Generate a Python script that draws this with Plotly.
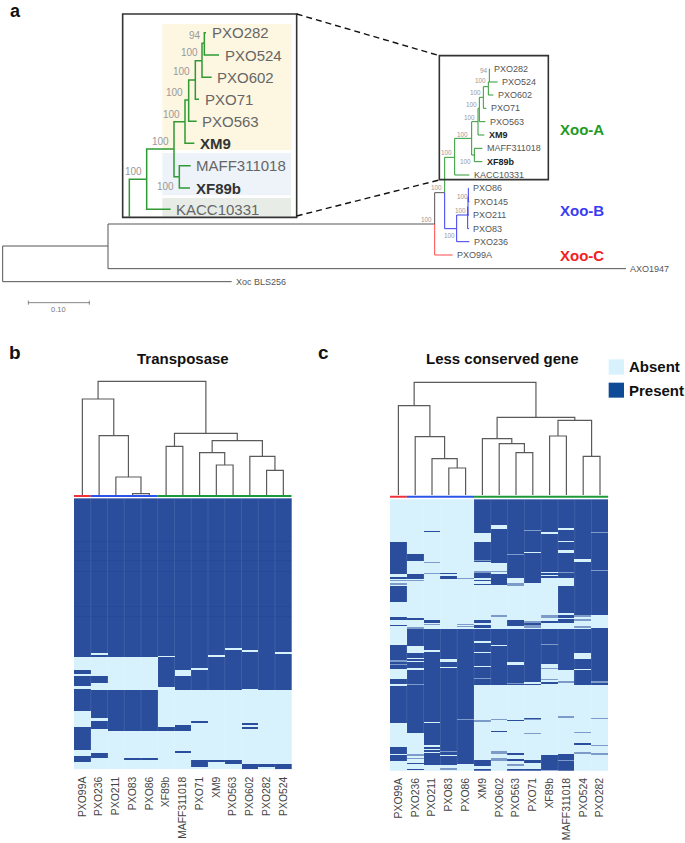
import plotly.graph_objects as go

FONT = "Liberation Sans"
W, H = 685, 843

# ---------- data: phylogeny (page units are 3x pixels) ----------
MAIN_ID = ["root", "n1", "Xoc BLS256", "n2", "AXO1947", "n3", "PXO99A", "g1", "b1", "PXO236", "b2", "PXO83", "b3",
           "PXO211", "b4", "PXO86", "PXO145", "KACC10331", "g2", "g3", "g4", "XM9", "e", "PXO563", "f", "PXO71", "g",
           "PXO602", "h", "PXO282", "PXO524", "MAFF311018", "XF89b"]
MAIN_PARENT = [None, "root", "root", "n1", "n1", "n2", "n2", "n3", "n3", "b1", "b1", "b2", "b2",
               "b3", "b3", "b4", "b4", "g1", "g1", "g2", "g2", "g3", "g3", "e", "e", "f", "f",
               "g", "g", "h", "h", "g4", "g4"]
MAIN_X = [8, 324, 695, 1304, 1878, 1334, 1358, 1364, 1370, 1408, 1403, 1407, 1404,
          1407, 1405, 1407, 1408, 1408, 1415, 1434, 1423, 1453, 1438, 1456, 1450, 1459, 1465,
          1480, 1468, 1470, 1493, 1447, 1447]
MAIN_Y = [738, 738, 845, 672, 806, 578, 765, 472, 686, 725, 645, 686, 620,
          645, 590, 565, 605, 525, 415, 365, 465, 405, 325, 365, 292, 325, 260,
          285, 246, 207, 246, 445, 485]
MAIN_CLADE = ["k", "k", "k", "k", "k", "k", "r", "g", "b", "b", "b", "b", "b",
              "b", "b", "b", "b", "g", "g", "g", "g", "g", "g", "g", "g", "g", "g",
              "g", "g", "g", "g", "g", "g"]
MAIN_BOOT_X = [1452, 1441, 1427, 1415, 1408, 1388, 1339, 1397, 1387, 1380, 1347, 1310, 1280]
MAIN_BOOT_Y = [212, 242, 276, 314, 352, 402, 456, 485, 590, 631, 705, 563, 657]
MAIN_BOOT = [94, 100, 100, 100, 100, 100, 100, 100, 100, 100, 100, 100, 100]

INSET_ID = ["stem", "a", "KACC10331", "b", "c", "d", "MAFF311018", "XF89b", "XM9", "e", "PXO563", "f", "PXO71", "g",
            "PXO602", "h", "PXO282", "PXO524"]
INSET_PARENT = [None, "stem", "a", "a", "b", "b", "d", "d", "c", "c", "e", "e", "f", "f", "g", "g", "h", "h"]
INSET_X = [388, 440, 512, 522, 555, 538, 572, 570, 583, 566, 590, 586, 597, 606, 635, 613, 618, 657]
INSET_Y = [650, 538, 628, 447, 365, 530, 497, 564, 430, 300, 364, 240, 298, 182, 232, 130, 98, 165]
INSET_BOOT_X = [585, 568, 545, 524, 515, 481, 399, 496]
INSET_BOOT_Y = [107, 158, 214, 277, 342, 423, 513, 560]
INSET_BOOT = [94, 100, 100, 100, 100, 100, 100, 100]
BOLD_STRAINS = ["XM9", "XF89b"]

# ---------- data: clustering ----------
B_LABELS = ["PXO99A", "PXO236", "PXO211", "PXO83", "PXO86", "XF89b", "MAFF311018", "PXO71", "XM9", "PXO563",
            "PXO602", "PXO282", "PXO524"]
C_LABELS = ["PXO99A", "PXO236", "PXO211", "PXO83", "PXO86", "XM9", "PXO602", "PXO563", "PXO71", "XF89b",
            "MAFF311018", "PXO524", "PXO282"]
# merges: leaf index 0-12, or 13 + merge index
B_LEFT = [3, 2, 1, 0, 5, 8, 7, 11, 10, 19, 17, 16]
B_RIGHT = [4, 13, 14, 15, 6, 9, 18, 12, 20, 21, 22, 23]
B_HEIGHT = [4, 54, 178, 288, 146, 90, 127, 74, 116, 163, 185, 341]
C_LEFT = [3, 2, 1, 0, 7, 6, 5, 9, 11, 20, 19, 16]
C_RIGHT = [4, 13, 14, 15, 8, 17, 18, 10, 12, 21, 22, 23]
C_HEIGHT = [81, 109, 175, 268, 127, 154, 169, 177, 116, 224, 233, 338]

# gene presence runs per strain (start row, end row[, level]); 813/814 gene rows
B_OFFSET = 425
B_RUNS = [
    [(-425, 52), (92, 102), (108, 140), (147, 213), (263, 332), (350, 366)],
    [(-425, 41), (47, 52), (108, 130), (152, 234), (245, 267), (339, 355)],
    [(-425, 52), (152, 273)],
    [(-425, 52), (152, 273), (355, 360)],
    [(-425, 52), (152, 273), (355, 360)],
    [(-425, 48), (52, 141), (263, 273)],
    [(-425, 92), (108, 152), (257, 273), (333, 339)],
    [(-425, 86), (91, 152), (245, 250), (361, 383)],
    [(-425, 47), (53, 152), (361, 366)],
    [(-425, 26), (31, 152), (361, 372)],
    [(-425, 31), (37, 147), (251, 256), (262, 268), (372, 388)],
    [(-425, 152), (372, 383)],
    [(-425, 36), (42, 152), (372, 388)],
]
B_TOTAL = 813
B_DARK_ROWS = [30, 63, 95, 130, 160, 187, 220, 255, 290, 325, 355, 390]

C_UPPER_OFFSET, C_LOWER_OFFSET = -28, 422
C_TOTAL = 814
C_UPPER = [
    [(155, 252), (262, 266), (270, 273, .5), (278, 284, .5), (288, 337), (380, 390), (405, 409)],
    [(193, 213), (215, 217, .5), (252, 268), (270, 274, .5), (384, 390), (412, 416, .5), (416, 450)],
    [(122, 126), (216, 218, .5), (248, 252, .5), (390, 400), (402, 405, .5), (416, 450)],
    [(248, 252), (258, 266), (416, 450)],
    [(264, 266, .5), (403, 406, .5), (408, 411, .5), (416, 450)],
    [(28, 130), (155, 210), (210, 214, .5), (214, 217), (244, 248, .5), (248, 264), (270, 274), (281, 286), (390, 400),
     (405, 414), (416, 450)],
    [(28, 106), (116, 218), (242, 246, .5), (252, 286), (376, 380, .5), (416, 450)],
    [(28, 192), (192, 195, .5), (195, 265), (278, 288, .5), (390, 408), (416, 450)],
    [(28, 120), (120, 122, .5), (122, 187), (190, 280), (392, 400, .5), (400, 405), (405, 414, .5), (416, 450)],
    [(28, 127), (131, 245), (248, 255), (258, 265), (375, 385, .5), (392, 398), (416, 450)],
    [(28, 113), (120, 153), (156, 180), (190, 246), (246, 249, .5), (249, 265), (287, 370), (376, 384), (388, 398),
     (416, 450)],
    [(28, 207), (216, 376), (376, 380, .5), (388, 392, .5), (408, 413, .5), (416, 450)],
    [(28, 126), (126, 128, .5), (128, 240), (240, 244, .5), (244, 376), (414, 450)],
]
C_LOWER = [
    [(14, 60), (60, 65, .5), (65, 70), (70, 74, .5), (74, 87), (115, 130), (137, 247), (320, 342), (345, 362)],
    [(0, 17), (37, 54), (57, 61), (64, 82), (90, 130), (130, 134, .5), (134, 278), (342, 346, .5), (354, 357, .5),
     (367, 370), (386, 389)],
    [(0, 30), (34, 245), (249, 315), (319, 325), (328, 335), (339, 373)],
    [(0, 56), (65, 80), (83, 332), (332, 336, .5), (336, 344), (346, 373), (384, 388, .5)],
    [(0, 235), (235, 238, .5), (238, 372)],
    [(0, 3), (10, 34), (38, 78), (81, 112), (112, 116, .5), (116, 135), (240, 245, .5), (358, 378), (385, 392)],
    [(0, 14), (17, 135), (237, 240, .5), (271, 275), (333, 341, .5), (352, 362, .5)],
    [(0, 65), (74, 127), (127, 132, .5), (132, 135), (239, 243), (339, 343), (357, 362), (372, 378, .5), (387, 392)],
    [(0, 124), (132, 135), (232, 235), (236, 240, .5), (277, 280, .5), (358, 368), (385, 392)],
    [(0, 13), (13, 16, .5), (16, 72), (83, 86, .5), (115, 120, .5), (125, 132), (345, 388), (388, 392, .5)],
    [(0, 90), (123, 127, .5), (228, 233, .5), (340, 360), (360, 363, .5), (363, 392)],
    [(0, 38), (56, 86), (90, 135), (274, 278, .5), (307, 313), (336, 340, .5)],
    [(0, 122), (122, 128, .5), (128, 135), (234, 237, .5), (314, 317, .5), (339, 345, .5)],
]

# ---------- helpers ----------
def xdom(a, b):
    return [a / W, b / W]

def ydom(top, bottom):
    return [1 - bottom / H, 1 - top / H]

def tree_lines(ids, parents, xs, ys, clades=None):
    pos = {i: (x, y) for i, x, y in zip(ids, xs, ys)}
    out = {}
    for k, p in enumerate(parents):
        if p is None:
            continue
        c = clades[k] if clades else "g"
        px, py = pos[p]
        x, y = xs[k], ys[k]
        lx, ly = out.setdefault(c, ([], []))
        lx += [px, px, x, None]
        ly += [py, y, y, None]
    return out

def dendro(left, right, height):
    px = {i: float(i) for i in range(13)}
    ph = {i: 0.0 for i in range(13)}
    X, Y = [], []
    for k, (l, r, h) in enumerate(zip(left, right, height)):
        X += [px[l], px[l], px[r], px[r], None]
        Y += [ph[l], h, h, ph[r], None]
        px[13 + k] = (px[l] + px[r]) / 2
        ph[13 + k] = h
    return X, Y

def fill_matrix(total, segments):
    z = [[0.0] * 13 for _ in range(total)]
    for col_runs, off in segments:
        for c, runs in enumerate(col_runs):
            for run in runs:
                level = run[2] if len(run) > 2 else 1.0
                for r in range(max(0, run[0] + off), min(total, run[1] + off)):
                    z[r][c] = level
    return z

fig = go.Figure()
PAGE = dict(visible=False, showgrid=False, zeroline=False, fixedrange=True)
HCOL = [[0, "#d7f2fd"], [0.435, "#7d9bc9"], [0.87, "#2a4d9c"], [1, "#25489a"]]
TREE_COL = {"k": "#555555", "r": "#ff4a4a", "g": "#2f9a34", "b": "#3b3bf5"}
annos, shapes = [], []

def text(s, x, y, size, color="#555555", bold=False, anchor="left", ax="x", ay="y"):
    annos.append(dict(text=f"<b>{s}</b>" if bold else s, x=x, y=y, xref=ax, yref=ay, xanchor=anchor, yanchor="middle",
                      showarrow=False, font=dict(family=FONT, size=size, color=color), borderpad=0))

# page: inset background patches
for x0, y0, x1, y1, col in [(487, 72, 875, 450, "#fdf6e1"), (487, 459, 873, 586, "#edf3f8"),
                            (487, 594, 873, 650, "#e7ece6")]:
    shapes.append(dict(type="rect", xref="x", yref="y", x0=x0, y0=y0, x1=x1, y1=y1, fillcolor=col, line_width=0,
                       layer="below"))

for c, (lx, ly) in tree_lines(MAIN_ID, MAIN_PARENT, MAIN_X, MAIN_Y, MAIN_CLADE).items():
    fig.add_trace(go.Scatter(x=lx, y=ly, mode="lines", line=dict(color=TREE_COL[c], width=1), hoverinfo="skip",
                             xaxis="x", yaxis="y", showlegend=False))
for c, (lx, ly) in tree_lines(INSET_ID, INSET_PARENT, INSET_X, INSET_Y).items():
    fig.add_trace(go.Scatter(x=lx, y=ly, mode="lines", line=dict(color="#2f9a34", width=1.5), hoverinfo="skip",
                             xaxis="x", yaxis="y", showlegend=False))
# scale bar
fig.add_trace(go.Scatter(x=[85, 85, None, 85, 268, None, 268, 268], y=[902, 914, None, 908, 908, None, 902, 914],
                         mode="lines", line=dict(color="#666666", width=0.8), hoverinfo="skip", showlegend=False,
                         xaxis="x", yaxis="y"))
text("0.10", 175, 928, 7.5, "#777777", anchor="center")

parents_set = set(MAIN_PARENT)
for i, x, y in zip(MAIN_ID, MAIN_X, MAIN_Y):
    if i not in parents_set:
        bold = i in BOLD_STRAINS
        text(i, x + 10, y, 9, "#222222" if bold else "#555555", bold)
parents_set = set(INSET_PARENT)
for i, x, y in zip(INSET_ID, INSET_X, INSET_Y):
    if i not in parents_set:
        bold = i in BOLD_STRAINS
        text(i, x + 14, y, 15, "#333333" if bold else "#666666", bold)
for b, x, y in zip(MAIN_BOOT, MAIN_BOOT_X, MAIN_BOOT_Y):
    text(str(b), x, y, 6.4, "#999999", anchor="center")
for b, x, y in zip(INSET_BOOT, INSET_BOOT_X, INSET_BOOT_Y):
    text(str(b), x, y, 10, "#999999", anchor="center")

text("Xoo-A", 1676, 388, 15, "#1f9a1f", True)
text("Xoo-B", 1676, 632, 15, "#3b3bf5", True)
text("Xoo-C", 1676, 767, 15, "#f52020", True)
text("a", 27, 32, 18, "#111111", True)
text("b", 24, 1056, 19, "#111111", True)
text("c", 951, 1056, 19, "#111111", True)
text("Transposase", 548, 1074, 15, "#111111", True, "center")
text("Less conserved gene", 1508, 1074, 15, "#111111", True, "center")
text("Absent", 1884, 1100, 15, "#111111", True)
text("Present", 1884, 1172, 15, "#111111", True)

# boxes, dashes, legend
for x0, y0, x1, y1 in [(368, 42, 890, 652), (1318, 167, 1645, 539)]:
    shapes.append(dict(type="rect", xref="x", yref="y", x0=x0, y0=y0, x1=x1, y1=y1,
                       line=dict(color="#333333", width=1.6), layer="above"))
for x0, y0, x1, y1 in [(890, 42, 1318, 167), (890, 648, 1318, 540)]:
    shapes.append(dict(type="line", xref="x", yref="y", x0=x0, y0=y0, x1=x1, y1=y1,
                       line=dict(color="#111111", width=1.4, dash="6px,4px"), layer="above"))
shapes.append(dict(type="rect", xref="x", yref="y", x0=1826, y0=1078, x1=1872, y1=1124, fillcolor="#d7f2fd", line_width=0))
shapes.append(dict(type="rect", xref="x", yref="y", x0=1826, y0=1148, x1=1872, y1=1193, fillcolor="#0f4a96", line_width=0))

# heatmaps and dendrograms
zb = fill_matrix(B_TOTAL, [(B_RUNS, B_OFFSET)])
for r in B_DARK_ROWS:
    zb[r] = [1.15 if v == 1 else v for v in zb[r]]
zc = fill_matrix(C_TOTAL, [(C_UPPER, C_UPPER_OFFSET), (C_LOWER, C_LOWER_OFFSET)])

def panel(n, z, labels, left, right, height, xa, xb, ytop, ybot, bar_h, total):
    hx, hy = f"x{n}", f"y{n}"
    dx, dy = f"x{n+1}", f"y{n+1}"
    fig.add_trace(go.Heatmap(z=z, x=list(range(13)), y=list(range(total)), colorscale=HCOL, zmin=0, zmax=1.15,
                             showscale=False, hoverinfo="skip", xaxis=hx, yaxis=hy))
    X, Y = dendro(left, right, height)
    fig.add_trace(go.Scatter(x=X, y=Y, mode="lines", line=dict(color="#5a5a5a", width=1.2), hoverinfo="skip",
                             showlegend=False, xaxis=dx, yaxis=dy))
    for a, b, col in [(-0.5, 0.5, "#f0303a"), (0.5, 4.5, "#2a55e8"), (4.5, 12.5, "#1c9a3a")]:
        fig.add_trace(go.Scatter(x=[a, b], y=[bar_h, bar_h], mode="lines", line=dict(color=col, width=2),
                                 hoverinfo="skip", showlegend=False, xaxis=dx, yaxis=dy))
    fig.update_layout({
        f"xaxis{n}": dict(domain=xdom(xa, xb), range=[-0.5, 12.5], anchor=hy, tickmode="array", tickvals=list(range(13)),
                          ticktext=labels, tickangle=-90, ticks="outside", ticklen=2, tickcolor="rgba(0,0,0,0)",
                          tickfont=dict(family=FONT, size=10.4, color="#444444"), showgrid=False, zeroline=False,
                          showline=False, fixedrange=True),
        f"yaxis{n}": dict(domain=ydom(ytop, ybot), range=[total, 0], anchor=hx, visible=False, fixedrange=True),
        f"xaxis{n+1}": dict(domain=xdom(xa, xb), range=[-0.5, 12.5], anchor=dy, visible=False, fixedrange=True),
        f"yaxis{n+1}": dict(domain=ydom(340, 499), range=[-12, 465], anchor=dx, visible=False, fixedrange=True),
    })
    for k in range(12):
        shapes.append(dict(type="line", xref=hx, yref=f"{hy} domain", x0=k + .5, x1=k + .5, y0=0, y1=1,
                           line=dict(color="rgba(255,255,255,0.10)", width=1), layer="above"))

panel(2, zb, B_LABELS, B_LEFT, B_RIGHT, B_HEIGHT, 74, 291.7, 498.3, 769.5, -3, B_TOTAL)
panel(4, zc, C_LABELS, C_LEFT, C_RIGHT, C_HEIGHT, 390, 608.4, 499.3, 770.8, -5, C_TOTAL)

fig.update_layout(
    width=W, height=H, margin=dict(l=0, r=0, t=0, b=0), paper_bgcolor="white", plot_bgcolor="rgba(0,0,0,0)",
    showlegend=False, annotations=annos, shapes=shapes,
    xaxis=dict(domain=[0, 1], range=[0, W * 3], anchor="y", **PAGE),
    yaxis=dict(domain=[0, 1], range=[H * 3, 0], anchor="x", **PAGE),
)
fig.write_html("out.html", config={"displayModeBar": False},
               post_script="document.body.style.margin='0';document.documentElement.style.overflow='hidden';")
